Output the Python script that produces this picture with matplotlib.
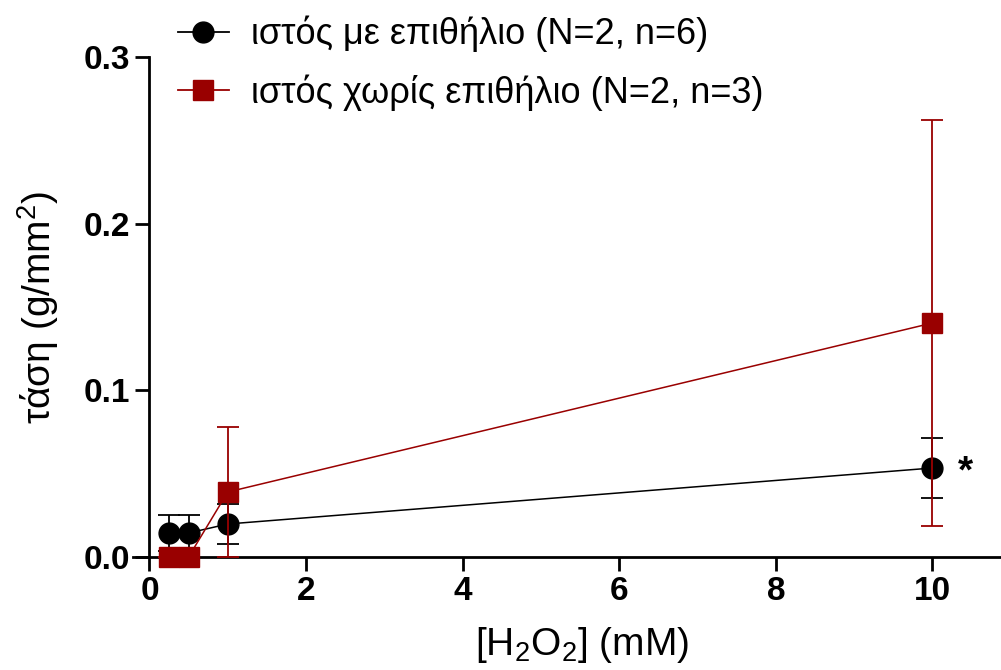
import numpy as np
import matplotlib
matplotlib.use("Agg")
import matplotlib.pyplot as plt
from matplotlib.lines import Line2D

plt.rcParams['font.family'] = ['Liberation Sans', 'DejaVu Sans']
plt.rcParams['mathtext.fontset'] = 'custom'
plt.rcParams['mathtext.rm'] = 'Liberation Sans'
plt.rcParams['mathtext.it'] = 'Liberation Sans:italic'

# data
conc = [0.25, 0.5, 1, 10]
with_epi = [0.0144, 0.0144, 0.0198, 0.0534]
with_epi_sem = [0.011, 0.011, 0.012, 0.018]
without_epi = [0.0, 0.0, 0.039, 0.1404]
without_epi_sem = [0.0, 0.0, 0.039, 0.122]

label_with = "ιστός με επιθήλιο (N=2, n=6)"
label_without = "ιστός χωρίς επιθήλιο (N=2, n=3)"
dark_red = '#990000'

fig = plt.figure(figsize=(10.01, 6.7), dpi=100)
ax = fig.add_axes([133/1001, 113/670, 868/1001, 500/670])

ax.errorbar(conc, with_epi, yerr=with_epi_sem, color='black', marker='o',
            markersize=15, lw=1.1, elinewidth=1.3, capsize=8, capthick=1.3,
            clip_on=False, zorder=3)
ax.errorbar(conc, without_epi, yerr=without_epi_sem, color=dark_red, marker='s',
            markersize=15, lw=1.1, elinewidth=1.3, capsize=8, capthick=1.3,
            clip_on=False, zorder=4)

ax.text(10.33, 0.051, '*', fontsize=28, fontweight='bold', ha='left', va='center')

ax.set_xlim(-0.21, 10.875)
ax.set_ylim(0, 0.3)
ax.set_xticks([0, 2, 4, 6, 8, 10])
ax.set_yticks([0.0, 0.1, 0.2, 0.3])
ax.set_yticklabels(['0.0', '0.1', '0.2', '0.3'])

ax.spines['top'].set_visible(False)
ax.spines['right'].set_visible(False)
ax.spines['left'].set_position(('data', 0))
for s in ['left', 'bottom']:
    ax.spines[s].set_linewidth(2)
ax.tick_params(width=2, length=10, labelsize=24, pad=4)
for lbl in ax.get_xticklabels() + ax.get_yticklabels():
    lbl.set_fontweight('bold')

ax.set_xlabel(r'[H$_2$O$_2$] (mM)', fontsize=28)
ax.xaxis.set_label_coords(449/868, -68/500)
ax.set_ylabel(r'τάση (g/mm$^2$)', fontsize=28)
ax.yaxis.set_label_coords(-72/868, 0.5)

handles = [
    Line2D([], [], color='black', marker='o', markersize=15, lw=1.3),
    Line2D([], [], color=dark_red, marker='s', markersize=15, lw=1.3),
]
leg = ax.legend(handles, [label_with, label_without], loc='upper left',
                bbox_to_anchor=(178/1001, 1 - 16/670), bbox_transform=fig.transFigure,
                frameon=False, fontsize=26, handlelength=1.4, handletextpad=0.62,
                labelspacing=0.6, borderpad=0, borderaxespad=0)

fig.savefig('out.png', dpi=100)
